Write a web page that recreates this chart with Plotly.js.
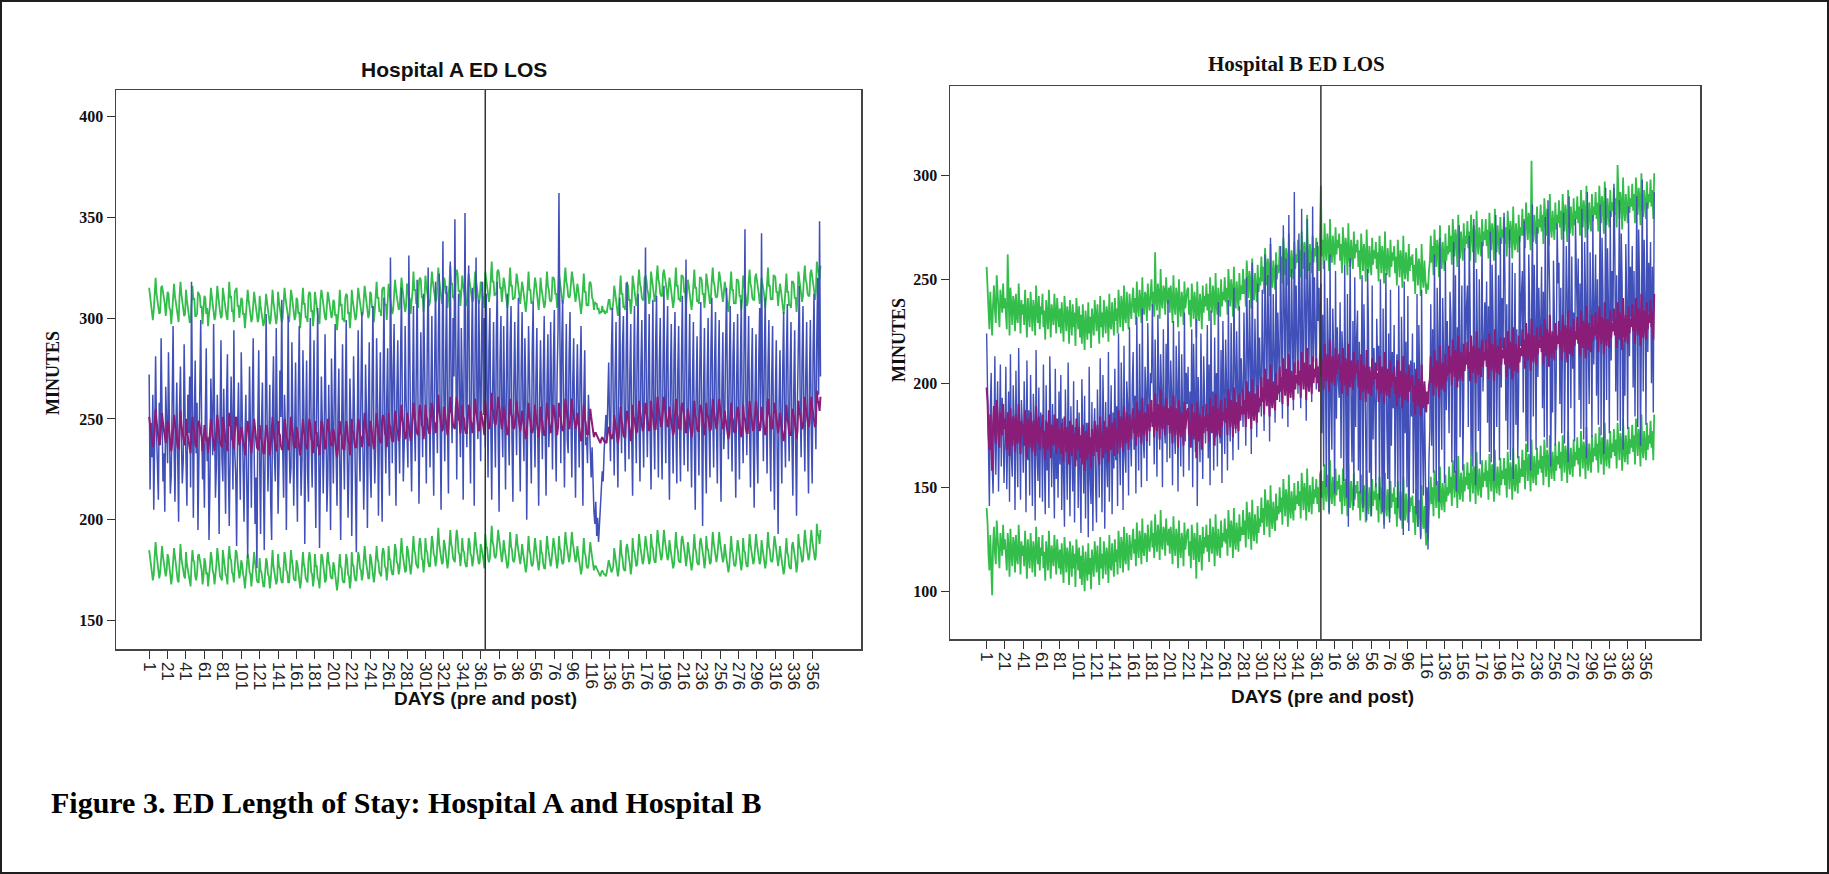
<!DOCTYPE html>
<html>
<head>
<meta charset="utf-8">
<script src="https://cdn.plot.ly/plotly-3.0.1.min.js"></script>
<style>
html,body{margin:0;padding:0;background:#fff;}
#wrap{position:relative;width:1829px;height:874px;}
#chart{position:absolute;left:0;top:0;width:1829px;height:874px;}
#frame{position:absolute;left:0;top:0;width:1829px;height:874px;box-sizing:border-box;border:2px solid #1e1e1e;pointer-events:none;}
</style>
</head>
<body>
<div id="wrap"><div id="chart"></div><div id="frame"></div></div>
<script>
// ---------- DATA ----------
const PRE_DAYS = 365;
const preTickDays = [1,21,41,61,81,101,121,141,161,181,201,221,241,261,281,301,321,341,361];
const postTickDays = [16,36,56,76,96,116,136,156,176,196,216,236,256,276,296,316,336,356];

// Hospital A – observed ED LOS (blue)
const aActual = [
272,215,248,231,262,205,239,281,244,226, 210,258,237,290,252,219,233,204,266,241,
228,283,247,213,222,259,296,238,209,244, 268,231,199,255,276,240,218,229,287,253,
224,207,262,243,271,216,318,235,201,249, 279,233,258,195,226,264,299,247,220,238,
206,252,285,229,241,190,218,270,256,232, 297,244,211,227,262,238,193,249,289,231,
219,265,240,203,258,282,226,197,236,271, 248,215,294,233,222,187,245,268,239,210,
283,251,228,199,240,262,219,181,231,276, 244,206,256,290,235,198,221,176,250,284,
229,193,247,268,226,185,239,302,253,214, 237,267,208,190,256,281,232,219,295,246,
203,228,274,251,309,236,211,262,244,195, 270,301,239,218,226,288,250,207,241,278,
233,199,264,296,241,212,230,284,255,188, 246,279,224,209,262,300,237,216,253,289,
231,196,258,305,244,186,227,271,249,213, 238,292,254,204,221,267,236,195,280,247,
218,262,297,233,207,251,275,228,190,244, 287,241,215,259,299,236,201,229,270,248,
192,235,281,252,210,184,246,294,238,219, 265,303,240,205,231,277,253,196,249,288,
226,211,264,306,243,218,237,290,257,202, 245,283,231,199,268,310,246,223,259,285,
236,212,330,255,228,274,297,241,207,263, 289,245,223,280,315,252,219,238,296,260,
233,226,331,268,240,214,285,306,249,229, 271,319,255,208,247,293,262,231,312,270,
240,218,286,325,258,226,264,301,245,212, 276,318,261,233,290,322,250,205,270,338,
263,229,281,316,247,213,284,328,259,238, 300,271,349,244,220,277,312,256,231,295,
267,210,283,352,259,236,304,326,248,218, 279,315,262,207,288,330,254,240,309,273,
229,291,318,252,300,
236,312,268,221,285,305,247,210,263,298, 254,226,291,318,242,204,279,301,251,231,
296,262,215,273,312,248,227,288,306,240, 209,266,298,257,232,281,310,243,214,275,
303,252,229,290,265,200,247,296,271,238, 218,284,308,250,226,269,295,241,207,261,
289,256,230,273,301,244,212,265,292,236, 251,298,268,225,280,304,247,219,271,294,
362,256,228,286,309,252,216,262,297,240, 233,281,303,249,221,268,290,245,211,259,
287,254,226,273,296,243,207,260,284,237, 241,228,262,249,232,221,236,213,204,198,
209,192,201,189,196,206,215,224,219,233, 241,252,238,262,278,247,229,284,305,256,
222,271,298,245,216,266,310,259,233,286, 301,248,224,279,318,255,230,273,297,241,
212,268,306,251,228,290,312,247,219,276, 299,253,226,284,335,258,231,270,302,244,
215,267,309,249,225,287,311,254,221,278, 300,246,220,275,316,257,228,283,306,242,
210,269,297,250,223,281,303,246,218,272, 296,243,219,278,311,255,227,284,329,251,
224,270,302,245,216,268,298,240,205,262, 291,249,222,276,308,252,197,264,295,238,
213,271,300,246,221,283,310,253,226,277, 303,248,218,272,299,241,209,266,293,235,
247,286,315,258,230,274,306,251,224,281, 298,245,211,269,302,248,220,276,309,253,
228,283,344,260,232,274,301,246,216,271, 295,241,206,263,292,237,218,279,305,250,
342,268,229,281,310,254,223,276,299,243, 214,269,296,241,205,262,289,235,193,257,
284,246,218,274,303,249,226,281,307,252, 229,272,298,240,212,265,294,238,202,259,
287,316,255,231,279,306,250,224,271,298, 246,213,268,299,243,218,284,312,257,235,
290,320,262,348,271
];

// Hospital A – predicted (purple)
const aPredicted = [
251,246,243,240,236,239,248,255,249,244,241,237,240,250,253,248,245,242,238,241,
249,247,242,239,234,238,247,252,248,243,241,236,235,246,254,247,244,240,238,237,
250,244,241,237,235,233,244,251,246,245,238,236,239,248,249,246,242,241,234,238,
247,245,239,240,233,237,243,250,247,241,239,234,238,244,252,246,242,238,237,236,
251,246,244,239,238,234,247,253,247,246,240,239,235,248,251,250,243,241,237,240,
246,244,239,237,232,236,243,249,246,240,239,233,237,244,250,244,241,236,235,235,
247,241,240,235,233,233,244,247,245,239,238,232,236,243,251,243,240,235,234,236,
249,243,242,237,235,235,246,250,247,241,240,235,235,245,251,246,243,237,236,236,
246,244,239,238,232,236,243,250,244,242,237,236,235,246,250,247,240,239,233,237,
249,243,243,237,236,232,246,249,248,242,240,235,236,245,250,245,243,238,237,237,
245,243,238,237,231,235,242,249,243,242,236,235,235,245,249,246,239,238,232,236,
250,244,243,238,236,236,247,250,248,242,241,236,239,246,253,247,244,239,237,237,
249,247,242,241,235,239,246,253,247,245,240,239,238,249,252,250,243,242,236,241,
253,247,246,241,239,239,250,254,251,245,244,239,242,249,257,250,247,242,240,241,
253,251,246,245,239,243,250,258,251,249,244,243,242,253,257,254,247,246,240,245,
257,251,250,245,243,243,254,258,255,249,248,243,246,253,262,254,251,246,244,245,
256,254,249,248,242,246,253,261,254,252,247,246,245,256,261,257,250,249,243,248,
257,251,250,245,243,243,254,257,255,249,248,243,246,253,260,254,251,246,244,245,
254,252,247,246,242,
259,253,252,247,245,247,257,263,255,253,248,247,249,258,261,257,252,250,245,249,
256,252,249,246,242,244,256,260,253,251,246,245,247,255,259,254,251,247,244,248,
254,250,247,244,240,243,252,258,251,249,244,243,245,253,257,252,249,246,241,245,
256,250,249,244,242,242,254,258,253,249,246,243,246,255,257,254,249,247,242,246,
258,252,251,246,244,245,256,260,255,251,248,245,248,256,260,255,252,248,245,247,
253,249,246,243,239,242,251,257,250,248,243,242,243,252,255,251,247,244,241,243,
243,242,241,240,239,238,240,241,240,239,239,238,240,243,246,244,241,240,241,243,
252,248,245,242,238,241,250,256,249,247,242,241,241,252,254,251,246,244,239,243,
257,251,250,245,243,244,255,259,254,250,247,244,246,255,258,254,251,247,244,246,
259,253,252,247,245,245,257,261,256,252,249,246,248,257,261,256,253,249,246,248,
256,252,249,246,242,244,254,260,253,251,246,245,245,256,258,255,250,248,243,247,
255,251,248,245,241,244,253,259,252,250,245,244,244,255,257,254,249,247,242,246,
258,252,251,246,244,245,256,260,255,251,248,245,248,256,260,255,252,248,245,247,
254,250,247,244,240,243,252,258,251,249,244,243,244,254,256,253,248,246,241,245,
257,251,250,245,243,243,255,259,254,250,247,244,246,255,259,254,251,247,244,246,
256,252,249,246,242,245,254,260,253,251,246,245,246,256,258,255,250,248,243,247,
253,249,246,243,239,242,251,257,250,248,243,242,242,253,255,252,247,245,240,244,
259,253,252,247,245,246,257,261,256,252,249,246,248,257,261,256,253,249,246,248,
264,259,258,254,261
];

// Hospital A – upper limit (green)
const aUpper = [
315,311,306,305,299,304,313,320,312,309,304,302,303,315,316,313,308,307,301,306,
313,312,305,304,297,303,311,317,311,308,304,301,298,311,318,312,307,305,301,302,
314,309,304,302,298,298,307,316,309,310,301,301,302,313,312,311,305,306,297,303,
311,310,302,305,296,302,306,315,310,306,302,299,301,309,316,311,305,303,300,301,
315,311,307,304,301,299,310,318,310,311,303,304,298,313,314,315,306,306,300,305,
310,309,302,302,295,301,306,314,309,305,302,298,300,309,313,309,304,301,298,300,
311,306,303,300,296,298,307,312,308,304,301,297,299,308,314,308,303,300,297,301,
313,308,305,302,298,300,309,315,310,306,303,300,298,310,314,311,306,302,299,301,
310,309,302,303,295,301,306,315,307,307,300,301,298,311,313,312,303,304,296,302,
313,308,306,302,299,297,309,314,311,307,303,300,299,310,313,310,306,303,300,302,
309,308,301,302,294,300,305,314,306,307,299,300,298,310,312,311,302,303,295,301,
314,309,306,303,299,301,310,315,311,307,304,301,302,311,316,312,307,304,300,302,
313,312,305,306,298,304,309,318,310,310,303,304,301,314,315,315,306,307,299,306,
317,312,309,306,302,304,313,319,314,310,307,304,305,314,320,315,310,307,303,306,
317,316,309,310,302,308,313,323,314,314,307,308,305,318,320,319,310,311,303,310,
321,316,313,310,306,308,317,323,318,314,311,308,309,318,325,319,314,311,307,310,
320,319,312,313,305,311,316,326,317,317,310,311,308,321,324,322,313,314,306,313,
321,316,313,310,306,308,317,322,318,314,311,308,309,318,323,319,314,311,307,310,
318,317,310,311,305,
323,318,315,312,308,312,320,328,318,318,311,312,312,323,324,322,315,315,308,314,
320,317,312,311,305,309,319,325,316,316,309,310,310,320,322,319,314,312,307,313,
318,315,310,309,303,308,315,323,314,314,307,308,308,318,320,317,312,311,304,310,
320,315,312,309,305,307,317,323,316,314,309,308,309,320,320,319,312,312,305,311,
322,317,314,311,307,310,319,325,318,316,311,310,311,321,323,320,315,313,308,312,
317,314,309,308,302,307,314,322,313,313,306,307,306,317,318,316,310,309,304,308,
307,307,304,305,302,303,303,306,303,304,302,303,303,308,309,309,304,305,304,308,
316,313,308,307,301,306,313,321,312,312,305,306,304,317,317,316,309,309,302,308,
321,316,313,310,306,309,318,324,317,315,310,309,309,320,321,319,314,312,307,311,
323,318,315,312,308,310,320,326,319,317,312,311,311,322,324,321,316,314,309,313,
320,317,312,311,305,309,317,325,316,316,309,310,308,321,321,320,313,313,306,312,
319,316,311,310,304,309,316,324,315,315,308,309,307,320,320,319,312,312,305,311,
322,317,314,311,307,310,319,325,318,316,311,310,311,321,323,320,315,313,308,312,
318,315,310,309,303,308,315,323,314,314,307,308,307,319,319,318,311,311,304,310,
321,316,313,310,306,308,318,324,317,315,310,309,309,320,322,319,314,312,307,311,
320,317,312,311,305,310,317,325,316,316,309,310,309,321,321,320,313,313,306,312,
317,314,309,308,302,307,314,322,313,313,306,307,305,318,318,317,310,310,303,309,
323,318,315,312,308,311,320,326,319,317,312,311,311,322,324,321,316,314,309,313,
328,324,321,319,326
];

// Hospital A – lower limit (green)
const aLower = [
185,180,177,174,170,173,182,189,183,178,175,171,174,184,187,182,179,176,172,175,
183,181,176,173,168,172,181,186,182,177,175,170,169,180,188,181,178,174,172,171,
184,178,175,171,169,167,178,185,180,179,172,170,173,182,183,180,176,175,168,172,
181,179,173,174,167,171,177,184,181,175,173,168,172,178,186,180,176,172,171,170,
185,180,178,173,172,168,181,187,181,180,174,173,169,182,185,184,177,175,171,174,
180,178,173,171,166,170,177,183,180,174,173,167,171,178,184,178,175,170,169,169,
181,175,174,169,167,167,178,181,179,173,172,166,170,177,185,177,174,169,168,170,
183,177,176,171,169,169,180,184,181,175,174,169,169,179,185,180,177,171,170,170,
180,178,173,172,166,170,177,184,178,176,171,170,169,180,184,181,174,173,167,171,
183,177,177,171,170,166,180,183,182,176,174,169,170,179,184,179,177,172,171,171,
179,177,172,171,165,169,176,183,177,176,170,169,169,179,183,180,173,172,166,170,
184,178,177,172,170,170,181,184,182,176,175,170,173,180,187,181,178,173,171,171,
183,181,176,175,169,173,180,187,181,179,174,173,172,183,186,184,177,176,170,175,
187,181,180,175,173,173,184,188,185,179,178,173,176,183,191,184,181,176,174,175,
187,185,180,179,173,177,184,192,185,183,178,177,176,187,191,188,181,180,174,179,
191,185,184,179,177,177,188,192,189,183,182,177,180,187,196,188,185,180,178,179,
190,188,183,182,176,180,187,195,188,186,181,180,179,190,195,191,184,183,177,182,
191,185,184,179,177,177,188,191,189,183,182,177,180,187,194,188,185,180,178,179,
188,186,181,180,176,
193,187,186,181,179,181,191,197,189,187,182,181,183,192,195,191,186,184,179,183,
190,186,183,180,176,178,190,194,187,185,180,179,181,189,193,188,185,181,178,182,
188,184,181,178,174,177,186,192,185,183,178,177,179,187,191,186,183,180,175,179,
190,184,183,178,176,176,188,192,187,183,180,177,180,189,191,188,183,181,176,180,
192,186,185,180,178,179,190,194,189,185,182,179,182,190,194,189,186,182,179,181,
187,183,180,177,173,176,185,191,184,182,177,176,177,186,189,185,181,178,175,177,
177,176,175,174,173,172,174,175,174,173,173,172,174,177,180,178,175,174,175,177,
186,182,179,176,172,175,184,190,183,181,176,175,175,186,188,185,180,178,173,177,
191,185,184,179,177,178,189,193,188,184,181,178,180,189,192,188,185,181,178,180,
193,187,186,181,179,179,191,195,190,186,183,180,182,191,195,190,187,183,180,182,
190,186,183,180,176,178,188,194,187,185,180,179,179,190,192,189,184,182,177,181,
189,185,182,179,175,178,187,193,186,184,179,178,178,189,191,188,183,181,176,180,
192,186,185,180,178,179,190,194,189,185,182,179,182,190,194,189,186,182,179,181,
188,184,181,178,174,177,186,192,185,183,178,177,178,188,190,187,182,180,175,179,
191,185,184,179,177,177,189,193,188,184,181,178,180,189,193,188,185,181,178,180,
190,186,183,180,176,179,188,194,187,185,180,179,180,190,192,189,184,182,177,181,
187,183,180,177,173,176,185,191,184,182,177,176,176,187,189,186,181,179,174,178,
193,187,186,181,179,180,191,195,190,186,183,180,182,191,195,190,187,183,180,182,
198,193,192,188,195
];

// Hospital B – observed ED LOS (blue)
const bActual = [
224,196,150,141,188,205,162,147,171,213,156,189,201,148,176,209,160,193,182,152,
171,208,149,186,196,143,214,165,155,199,183,139,206,172,150,217,168,144,192,180,
157,201,178,138,211,163,187,146,204,170,141,195,182,134,216,167,153,198,145,186,
176,143,209,165,137,199,158,181,140,213,171,150,190,162,135,207,154,178,145,196,
161,204,139,183,152,131,197,168,144,210,157,136,189,173,148,201,133,179,163,192,
140,186,158,128,202,166,147,194,135,181,170,126,208,154,142,191,129,175,188,151,
133,197,171,145,212,156,138,204,179,130,191,162,150,215,143,173,199,137,186,159,
207,163,189,141,224,172,151,210,185,139,218,166,157,201,190,146,227,175,160,198,
215,168,194,147,232,181,158,219,189,150,236,174,164,208,196,153,229,183,170,205,
200,238,176,161,221,190,155,233,184,168,214,197,150,226,179,171,219,162,240,187,
164,211,195,151,230,177,166,218,200,148,225,186,160,214,193,155,234,172,205,190,
208,158,196,173,226,150,219,182,167,231,141,203,188,162,224,179,154,213,198,171,
187,228,164,209,151,235,180,196,158,222,174,205,160,239,183,171,216,152,230,192,
166,221,199,158,240,185,172,229,204,163,246,190,176,225,201,168,237,183,212,196,
179,234,208,170,251,195,183,240,215,166,258,200,188,231,209,174,248,191,222,205,
184,245,216,177,262,203,190,252,225,172,270,208,194,243,219,181,257,199,234,212,
191,266,222,183,276,210,198,260,232,179,281,216,203,255,227,187,292,205,247,219,
195,272,229,188,284,213,201,263,238,182,279,222,206,258,233,191,285,210,251,224,
197,268,230,246,205,
248,176,233,160,259,205,150,241,219,137,262,190,168,236,212,147,254,183,227,201,
193,239,164,225,214,153,257,198,145,243,131,208,260,187,162,230,141,251,179,222,
235,158,220,147,193,252,140,238,209,182,134,255,226,157,203,136,247,173,217,190,
150,231,206,218,144,250,190,138,236,130,201,253,180,154,224,133,245,170,215,188,
228,150,197,214,140,247,187,134,232,203,127,249,176,220,150,242,129,166,211,184,
224,147,210,183,137,243,131,228,199,125,245,172,146,199,170,128,150,120,163,178,
238,170,226,157,262,205,151,246,221,143,270,195,168,241,214,152,259,187,230,206,
176,244,232,162,211,268,157,252,148,227,201,276,174,220,247,158,193,265,212,236,
247,179,271,235,165,214,160,279,230,151,255,204,177,250,161,223,268,196,215,239,
216,249,181,237,167,273,162,257,232,153,206,281,179,225,252,163,270,198,241,217,
282,250,182,238,168,217,274,163,233,258,154,207,253,180,226,164,199,271,218,242,
254,186,278,242,172,221,167,262,237,158,211,286,184,257,230,168,275,203,246,222,
224,256,188,244,174,280,223,169,288,264,239,160,213,186,259,232,170,205,277,248,
258,190,246,176,226,282,171,225,266,241,162,290,215,188,261,207,234,172,279,250,
228,260,192,248,178,284,227,173,268,243,164,292,217,190,263,236,174,281,209,252,
262,194,250,180,229,286,175,270,245,166,219,294,192,265,238,176,283,211,254,230,
296,264,196,252,182,231,288,177,272,247,168,221,194,267,240,178,285,213,256,232,
266,198,254,184,233,290,179,274,249,170,223,298,196,269,242,180,287,215,258,234,
268,200,256,186,292
];

// Hospital B – predicted (purple)
const bPredicted = [
198,191,176,168,185,172,158,180,189,177,171,192,183,174,169,186,181,175,190,178,
183,172,168,186,179,165,188,176,170,184,181,167,185,174,171,190,178,166,182,175,
180,170,187,176,164,183,178,169,186,173,167,182,177,165,189,176,171,184,168,179,
175,185,169,177,163,182,172,168,187,176,164,180,174,170,185,171,166,183,177,169,
178,166,181,172,162,184,170,167,179,175,161,182,173,165,180,169,176,160,183,171,
168,179,164,175,161,180,170,158,177,172,163,181,166,174,159,178,169,165,182,171,
167,180,173,161,184,169,176,164,182,171,166,179,175,162,185,170,168,181,174,165,
183,172,178,166,187,175,169,184,180,167,189,174,171,186,177,168,185,179,173,182,
188,176,183,170,191,179,174,187,182,171,193,178,175,186,184,172,190,181,177,185,
192,179,186,174,195,182,177,190,185,173,197,181,178,189,187,175,193,184,180,188,
176,189,183,171,194,180,175,188,184,169,192,179,174,186,182,170,191,178,183,187,
188,175,182,169,190,178,173,186,181,164,191,177,172,185,180,168,189,176,184,179,
190,177,185,172,193,181,176,189,184,170,195,180,175,188,183,174,192,179,186,182,
193,181,188,175,197,184,179,192,187,174,198,183,178,191,186,177,195,182,189,185,
197,185,192,179,201,188,183,196,191,178,202,187,182,195,190,181,199,186,193,189,
203,191,198,185,207,194,189,202,197,184,209,193,188,201,196,187,205,192,199,195,
208,196,203,190,212,199,194,207,202,189,214,198,193,206,201,192,210,197,204,200,
211,199,206,193,215,202,197,210,205,192,217,201,196,209,204,195,213,200,207,203,
212,200,208,196,214,
216,203,211,197,219,206,201,214,209,196,221,205,200,213,208,199,217,204,211,207,
214,201,209,195,217,204,199,212,207,194,219,203,198,211,206,197,215,202,209,205,
211,198,206,192,214,201,196,209,204,191,216,200,195,208,203,194,212,199,206,202,
210,197,205,191,213,200,195,208,203,190,215,199,194,207,202,193,211,198,205,201,
208,195,203,189,211,198,193,206,201,188,213,197,192,205,200,191,209,196,203,199,
204,191,199,185,207,194,189,202,197,184,209,193,188,201,194,186,196,190,199,202,
213,200,208,194,216,203,198,211,206,193,218,202,197,210,205,196,214,201,208,204,
218,205,213,199,221,208,203,216,211,198,223,207,202,215,210,201,219,206,213,209,
220,207,215,201,223,210,205,218,213,200,225,209,204,217,212,203,221,208,215,211,
221,208,216,202,224,211,206,219,214,201,226,210,205,218,213,204,222,209,216,212,
222,209,217,203,225,212,207,220,215,202,227,211,206,219,214,205,223,210,217,213,
226,213,221,207,229,216,211,224,219,206,231,215,210,223,218,209,227,214,221,217,
228,215,223,209,231,218,213,226,221,208,233,217,212,225,220,211,229,216,223,219,
230,217,225,211,233,220,215,228,223,210,235,219,214,227,222,213,231,218,225,221,
232,219,227,213,235,222,217,230,225,212,237,221,216,229,224,215,233,220,227,223,
234,221,229,215,237,224,219,232,227,214,239,223,218,231,226,217,235,222,229,225,
236,223,231,217,239,226,221,234,229,216,241,225,220,233,228,219,237,224,231,227,
238,225,233,219,241,228,223,236,231,218,243,227,222,235,230,221,239,226,233,229,
240,227,235,221,243
];

// Hospital B – upper limit (green)
const bUpper = [
256,248,235,226,244,231,223,238,247,236,229,252,241,233,227,245,239,234,248,236,
241,230,226,262,237,223,246,234,228,242,239,225,243,232,229,248,236,224,240,233,
238,228,245,234,222,241,236,227,244,231,225,240,235,223,247,234,229,242,226,237,
233,243,227,235,221,240,230,226,245,234,222,238,232,228,243,229,224,241,235,227,
236,224,239,230,220,242,228,225,237,233,219,240,231,223,238,227,234,218,241,229,
226,237,222,233,219,238,228,216,235,230,221,239,224,232,217,236,227,223,240,229,
225,238,231,219,242,227,234,222,240,229,224,237,233,220,243,228,226,239,232,223,
241,230,236,224,245,233,227,242,238,225,247,232,229,244,235,226,243,237,231,240,
246,234,241,228,249,237,232,245,240,229,251,236,233,244,242,230,248,239,235,243,
250,237,244,232,263,240,235,248,243,231,255,239,236,247,245,233,251,242,238,246,
234,247,241,229,252,238,233,246,242,227,250,237,232,244,240,228,249,236,241,245,
246,233,240,227,248,236,231,244,239,222,249,235,230,243,238,226,247,234,242,237,
248,235,243,230,251,239,234,247,242,228,253,238,233,246,241,232,250,237,244,240,
251,239,246,233,255,242,237,250,245,232,256,241,236,249,244,235,253,240,247,243,
255,243,250,237,259,246,241,254,249,236,260,245,240,253,248,239,257,244,251,247,
261,249,256,243,265,252,247,260,255,242,267,251,246,259,254,245,263,250,257,253,
266,254,261,248,270,257,252,265,260,247,272,256,251,264,259,250,268,255,262,258,
269,257,264,251,273,260,255,268,263,250,281,259,254,267,262,253,271,258,265,261,
270,258,266,254,272,
295,261,269,255,277,264,259,272,267,254,279,263,258,271,266,257,275,262,269,265,
272,259,267,253,275,262,257,270,265,252,277,261,256,269,264,255,273,260,267,263,
269,256,264,250,272,259,254,267,262,249,274,258,253,266,261,252,270,257,264,260,
268,255,263,249,271,258,253,266,261,248,273,257,252,265,260,251,269,256,263,259,
266,253,261,247,269,256,251,264,259,246,271,255,250,263,258,249,267,254,261,257,
262,249,257,243,265,252,247,260,255,242,267,251,246,259,250,243,248,245,254,259,
271,258,266,252,274,261,256,269,264,251,276,260,255,268,263,254,272,259,266,262,
276,263,271,257,279,266,261,274,269,256,281,265,260,273,268,259,277,264,271,267,
278,265,273,259,281,268,263,276,271,258,283,267,262,275,270,261,279,266,273,269,
279,266,274,260,282,269,264,277,272,259,284,268,263,276,271,262,280,267,274,270,
280,267,275,261,283,270,265,278,273,260,285,269,264,277,272,263,281,268,275,271,
284,271,279,265,287,274,269,282,277,264,307,273,268,281,276,267,285,272,279,275,
286,273,281,267,289,276,271,284,279,266,291,275,270,283,278,269,287,274,281,277,
288,275,283,269,291,278,273,286,281,268,293,277,272,285,280,271,289,276,283,279,
290,277,285,271,293,280,275,288,283,270,295,279,274,287,282,273,291,278,285,281,
292,279,287,273,295,282,277,290,285,272,297,281,276,289,284,275,293,280,287,283,
294,281,289,275,305,284,279,292,287,274,299,283,278,291,286,277,295,282,289,285,
296,283,291,277,299,286,281,294,289,276,301,285,280,293,288,279,297,284,291,287,
298,285,293,279,301
];

// Hospital B – lower limit (green)
const bLower = [
140,133,118,110,127,114,98,122,131,119,113,134,125,116,111,128,123,117,132,120,
125,114,110,128,121,107,130,118,112,126,123,109,127,116,113,132,120,108,124,117,
122,112,129,118,106,125,120,111,128,115,109,124,119,107,131,118,113,126,110,121,
117,127,111,119,105,124,114,110,129,118,106,122,116,112,127,113,108,125,119,111,
120,108,123,114,104,126,112,109,121,117,103,124,115,107,122,111,118,102,125,113,
110,121,106,117,103,122,112,100,119,114,105,123,108,116,101,120,111,107,124,113,
109,122,115,103,126,111,118,106,124,113,108,121,117,104,127,112,110,123,116,107,
125,114,120,108,129,117,111,126,122,109,131,116,113,128,119,110,127,121,115,124,
130,118,125,112,133,121,116,129,124,113,135,120,117,128,126,114,132,123,119,127,
134,121,128,116,137,124,119,132,127,115,139,123,120,131,129,117,135,126,122,130,
118,131,125,113,136,122,117,130,126,111,134,121,116,128,124,112,133,120,125,129,
130,117,124,111,132,120,115,128,123,106,133,119,114,127,122,110,131,118,126,121,
132,119,127,114,135,123,118,131,126,112,137,122,117,130,125,116,134,121,128,124,
135,123,130,117,139,126,121,134,129,116,140,125,120,133,128,119,137,124,131,127,
139,127,134,121,143,130,125,138,133,120,144,129,124,137,132,123,141,128,135,131,
145,133,140,127,149,136,131,144,139,126,151,135,130,143,138,129,147,134,141,137,
150,138,145,132,154,141,136,149,144,131,156,140,135,148,143,134,152,139,146,142,
153,141,148,135,157,144,139,152,147,134,159,143,138,151,146,137,155,142,149,145,
154,142,150,138,156,
158,145,153,139,161,148,143,156,151,138,163,147,142,155,150,141,159,146,153,149,
156,143,151,137,159,146,141,154,149,136,161,145,140,153,148,139,157,144,151,147,
153,140,148,134,156,143,138,151,146,133,158,142,137,150,145,136,154,141,148,144,
152,139,147,133,155,142,137,150,145,132,157,141,136,149,144,135,153,140,147,143,
150,137,145,131,153,140,135,148,143,130,155,139,134,147,142,133,151,138,145,141,
146,133,141,127,149,136,131,144,139,126,151,135,130,141,133,122,131,125,139,144,
155,142,150,136,158,145,140,153,148,135,160,144,139,152,147,138,156,143,150,146,
160,147,155,141,163,150,145,158,153,140,165,149,144,157,152,143,161,148,155,151,
162,149,157,143,165,152,147,160,155,142,167,151,146,159,154,145,163,150,157,153,
163,150,158,144,166,153,148,161,156,143,168,152,147,160,155,146,164,151,158,154,
164,151,159,145,167,154,149,162,157,144,169,153,148,161,156,147,165,152,159,155,
168,155,163,149,171,158,153,166,161,148,173,157,152,165,160,151,169,156,163,159,
170,157,165,151,173,160,155,168,163,150,175,159,154,167,162,153,171,158,165,161,
172,159,167,153,175,162,157,170,165,152,177,161,156,169,164,155,173,160,167,163,
174,161,169,155,177,164,159,172,167,154,179,163,158,171,166,157,175,162,169,165,
176,163,171,157,179,166,161,174,169,156,181,165,160,173,168,159,177,164,171,167,
178,165,173,159,181,168,163,176,171,158,183,167,162,175,170,161,179,166,173,169,
180,167,175,161,183,170,165,178,173,160,185,169,164,177,172,163,181,168,175,171,
182,169,177,163,185
];

// ---------- CHART ----------
const tickVals = preTickDays.map(d => d - 1).concat(postTickDays.map(d => PRE_DAYS + d - 1));
const tickText = preTickDays.map(String).concat(postTickDays.map(String));
const idx = arr => arr.map((_, i) => i);

const GREEN = '#33bd4b', BLUE = '#4050b8', PURPLE = '#8a1d78';
function tr(y, color, w, xa, ya) {
  return {x: idx(y), y: y, type: 'scatter', mode: 'lines', line: {color: color, width: w},
          xaxis: xa, yaxis: ya, hoverinfo: 'skip'};
}
const data = [
  tr(aLower, GREEN, 1.8, 'x', 'y'), tr(aUpper, GREEN, 1.8, 'x', 'y'),
  tr(aActual, BLUE, 1.5, 'x', 'y'), tr(aPredicted, PURPLE, 2, 'x', 'y'),
  tr(bLower, GREEN, 1.8, 'x2', 'y2'), tr(bUpper, GREEN, 1.8, 'x2', 'y2'),
  tr(bActual, BLUE, 1.4, 'x2', 'y2'), tr(bPredicted, PURPLE, 2, 'x2', 'y2')
];

const W = 1829, H = 874;
const px = v => v / W, py = v => 1 - v / H;

const xTickFont = {family: 'Liberation Sans, Arial, sans-serif', size: 17, color: '#222'};
const yTickFont = {family: 'Liberation Serif, Times New Roman, serif', size: 16, color: '#111', weight: 'bold'};
function xAxis(domain, range, anchor) {
  return {domain: domain, range: range, anchor: anchor, tickmode: 'array', tickvals: tickVals, ticktext: tickText,
    tickangle: 90, ticks: 'outside', ticklen: 8, tickwidth: 1, tickcolor: '#333', tickfont: xTickFont,
    showline: true, mirror: true, linecolor: '#444', linewidth: 1.5, showgrid: false, zeroline: false, fixedrange: true};
}
function yAxis(domain, range, anchor, vals) {
  return {domain: domain, range: range, anchor: anchor, tickmode: 'array', tickvals: vals,
    ticks: 'outside', ticklen: 8, tickwidth: 1, tickcolor: '#333', tickfont: yTickFont,
    showline: true, mirror: true, linecolor: '#444', linewidth: 1.5, showgrid: false, zeroline: false, fixedrange: true};
}

const layout = {
  width: W, height: H, margin: {l: 0, r: 0, t: 0, b: 0},
  paper_bgcolor: '#fff', plot_bgcolor: '#fff', showlegend: false,
  xaxis: xAxis([px(116), px(861)], [-36, 773], 'y'),
  yaxis: yAxis([py(649), py(90)], [136, 413], 'x', [150, 200, 250, 300, 350, 400]),
  xaxis2: xAxis([px(950), px(1700)], [-40, 779], 'y2'),
  yaxis2: yAxis([py(639), py(86)], [77, 343], 'x2', [100, 150, 200, 250, 300]),
  shapes: [
    {type: 'line', xref: 'x', yref: 'y domain', x0: PRE_DAYS, x1: PRE_DAYS, y0: 0, y1: 1, line: {color: '#333', width: 1.5}},
    {type: 'line', xref: 'x2', yref: 'y2 domain', x0: PRE_DAYS, x1: PRE_DAYS, y0: 0, y1: 1, line: {color: '#333', width: 1.5}}
  ],
  annotations: [
    {text: 'Hospital A ED LOS', xref: 'paper', yref: 'paper', x: px(454), y: py(70), xanchor: 'center', yanchor: 'middle', showarrow: false,
     font: {family: 'Liberation Sans, Arial, sans-serif', size: 21, color: '#111', weight: 'bold'}},
    {text: 'Hospital B ED LOS', xref: 'paper', yref: 'paper', x: px(1296), y: py(64), xanchor: 'center', yanchor: 'middle', showarrow: false,
     font: {family: 'Liberation Serif, Times New Roman, serif', size: 21, color: '#111', weight: 'bold'}},
    {text: 'DAYS (pre and post)', xref: 'paper', yref: 'paper', x: px(485), y: py(698), xanchor: 'center', yanchor: 'middle', showarrow: false,
     font: {family: 'Liberation Sans, Arial, sans-serif', size: 19, color: '#111', weight: 'bold'}},
    {text: 'DAYS (pre and post)', xref: 'paper', yref: 'paper', x: px(1322), y: py(696), xanchor: 'center', yanchor: 'middle', showarrow: false,
     font: {family: 'Liberation Sans, Arial, sans-serif', size: 19, color: '#111', weight: 'bold'}},
    {text: 'MINUTES', xref: 'paper', yref: 'paper', x: px(53), y: py(373), xanchor: 'center', yanchor: 'middle', showarrow: false, textangle: -90,
     font: {family: 'Liberation Serif, Times New Roman, serif', size: 18, color: '#111', weight: 'bold'}},
    {text: 'MINUTES', xref: 'paper', yref: 'paper', x: px(899), y: py(340), xanchor: 'center', yanchor: 'middle', showarrow: false, textangle: -90,
     font: {family: 'Liberation Serif, Times New Roman, serif', size: 18, color: '#111', weight: 'bold'}},
    {text: 'Figure 3. ED Length of Stay: Hospital A and Hospital B', xref: 'paper', yref: 'paper', x: px(49), y: py(802), xanchor: 'left', yanchor: 'middle', showarrow: false,
     font: {family: 'Liberation Serif, Times New Roman, serif', size: 30, color: '#000', weight: 'bold'}}
  ]
};

Plotly.newPlot('chart', data, layout, {staticPlot: true, displayModeBar: false});
</script>
</body>
</html>
